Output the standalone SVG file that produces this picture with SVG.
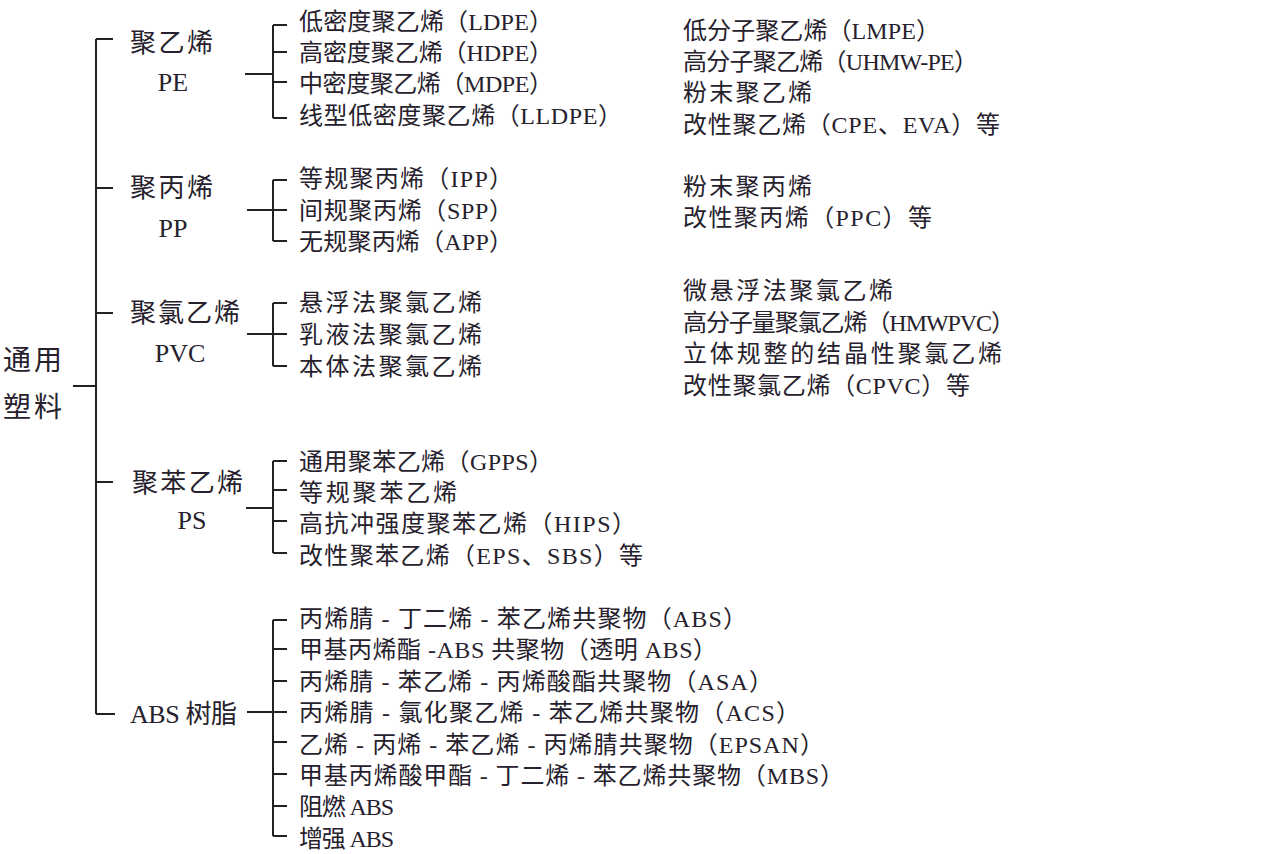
<svg xmlns="http://www.w3.org/2000/svg" width="1280" height="854" viewBox="0 0 1280 854">
<style>
.t{font-family:"Liberation Serif","Noto Sans CJK SC",serif;font-size:24px;fill:#26212c}
.l1{font-family:"Liberation Serif","Noto Sans CJK SC",serif;font-size:26px;fill:#26212c}
.ab{font-family:"Liberation Serif","Noto Sans CJK SC",serif;font-size:26px;fill:#26212c;text-anchor:middle}
.root{font-family:"Liberation Serif","Noto Sans CJK SC",serif;font-size:28px;fill:#26212c}
.c path{fill:none;stroke:#222;stroke-width:2}
</style>
<rect width="1280" height="854" fill="#ffffff"/>
<g id="connectors" class="c">
<path d="M73 386H96M96 39V714M96 39H113M96 188H113M96 313H113M96 482H113M96 714H115"/>
<path d="M245 74H273M273 25V118M273 25H287M273 52H287M273 82H287M273 118H287"/>
<path d="M247 210H273M273 180V241M273 180H287M273 210H287M273 241H287"/>
<path d="M247 334H273M273 303V366M273 303H287M273 334H287M273 366H287"/>
<path d="M246 508H273M273 461V553M273 461H287M273 490H287M273 521H287M273 553H287"/>
<path d="M247 712H273M273 620V836M273 620H287M273 649H287M273 681H287M273 712H287M273 742H287M273 774H287M273 806H287M273 836H287"/>
</g>
<g id="root">
<text class="root" x="3" y="370" textLength="59">通用</text>
<text class="root" x="3" y="417" textLength="59">塑料</text>
</g>
<g id="pe">
<text class="l1" x="130" y="52" textLength="83">聚乙烯</text>
<text class="ab" x="173" y="91">PE</text>
</g>
<g id="pe-children">
<text class="t" x="299" y="30" textLength="254">低密度聚乙烯（LDPE）</text>
<text class="t" x="299" y="61" textLength="254">高密度聚乙烯（HDPE）</text>
<text class="t" x="299" y="92" textLength="254">中密度聚乙烯（MDPE）</text>
<text class="t" x="299" y="124" textLength="323">线型低密度聚乙烯（LLDPE）</text>
</g>
<g id="pe-others">
<text class="t" x="683" y="39" textLength="257">低分子聚乙烯（LMPE）</text>
<text class="t" x="683" y="70" textLength="295">高分子聚乙烯（UHMW-PE）</text>
<text class="t" x="683" y="101" textLength="129">粉末聚乙烯</text>
<text class="t" x="683" y="133" textLength="317">改性聚乙烯（CPE、EVA）等</text>
</g>
<g id="pp">
<text class="l1" x="130" y="197" textLength="83">聚丙烯</text>
<text class="ab" x="173" y="237">PP</text>
</g>
<g id="pp-children">
<text class="t" x="299" y="187" textLength="214">等规聚丙烯（IPP）</text>
<text class="t" x="299" y="219" textLength="214">间规聚丙烯（SPP）</text>
<text class="t" x="299" y="250" textLength="214">无规聚丙烯（APP）</text>
</g>
<g id="pp-others">
<text class="t" x="683" y="195" textLength="129">粉末聚丙烯</text>
<text class="t" x="683" y="226" textLength="249">改性聚丙烯（PPC）等</text>
</g>
<g id="pvc">
<text class="l1" x="130" y="322" textLength="110">聚氯乙烯</text>
<text class="ab" x="180" y="362">PVC</text>
</g>
<g id="pvc-children">
<text class="t" x="299" y="311" textLength="183">悬浮法聚氯乙烯</text>
<text class="t" x="299" y="343" textLength="183">乳液法聚氯乙烯</text>
<text class="t" x="299" y="375" textLength="183">本体法聚氯乙烯</text>
</g>
<g id="pvc-others">
<text class="t" x="683" y="299" textLength="210">微悬浮法聚氯乙烯</text>
<text class="t" x="683" y="331" textLength="332">高分子量聚氯乙烯（HMWPVC）</text>
<text class="t" x="683" y="362" textLength="319">立体规整的结晶性聚氯乙烯</text>
<text class="t" x="683" y="394" textLength="287">改性聚氯乙烯（CPVC）等</text>
</g>
<g id="ps">
<text class="l1" x="132" y="492" textLength="111">聚苯乙烯</text>
<text class="ab" x="192" y="529">PS</text>
</g>
<g id="ps-children">
<text class="t" x="299" y="470" textLength="254">通用聚苯乙烯（GPPS）</text>
<text class="t" x="299" y="501" textLength="158">等规聚苯乙烯</text>
<text class="t" x="299" y="532" textLength="337">高抗冲强度聚苯乙烯（HIPS）</text>
<text class="t" x="299" y="564" textLength="344">改性聚苯乙烯（EPS、SBS）等</text>
</g>
<g id="abs">
<text class="l1" x="130" y="723" textLength="107">ABS 树脂</text>
</g>
<g id="abs-children">
<text class="t" x="299" y="627" textLength="448">丙烯腈 - 丁二烯 - 苯乙烯共聚物（ABS）</text>
<text class="t" x="299" y="658" textLength="418">甲基丙烯酯 -ABS 共聚物（透明 ABS）</text>
<text class="t" x="299" y="690" textLength="474">丙烯腈 - 苯乙烯 - 丙烯酸酯共聚物（ASA）</text>
<text class="t" x="299" y="721" textLength="501">丙烯腈 - 氯化聚乙烯 - 苯乙烯共聚物（ACS）</text>
<text class="t" x="299" y="753" textLength="525">乙烯 - 丙烯 - 苯乙烯 - 丙烯腈共聚物（EPSAN）</text>
<text class="t" x="299" y="784" textLength="545">甲基丙烯酸甲酯 - 丁二烯 - 苯乙烯共聚物（MBS）</text>
<text class="t" x="299" y="815" textLength="95">阻燃 ABS</text>
<text class="t" x="299" y="847" textLength="95">增强 ABS</text>
</g>
</svg>
